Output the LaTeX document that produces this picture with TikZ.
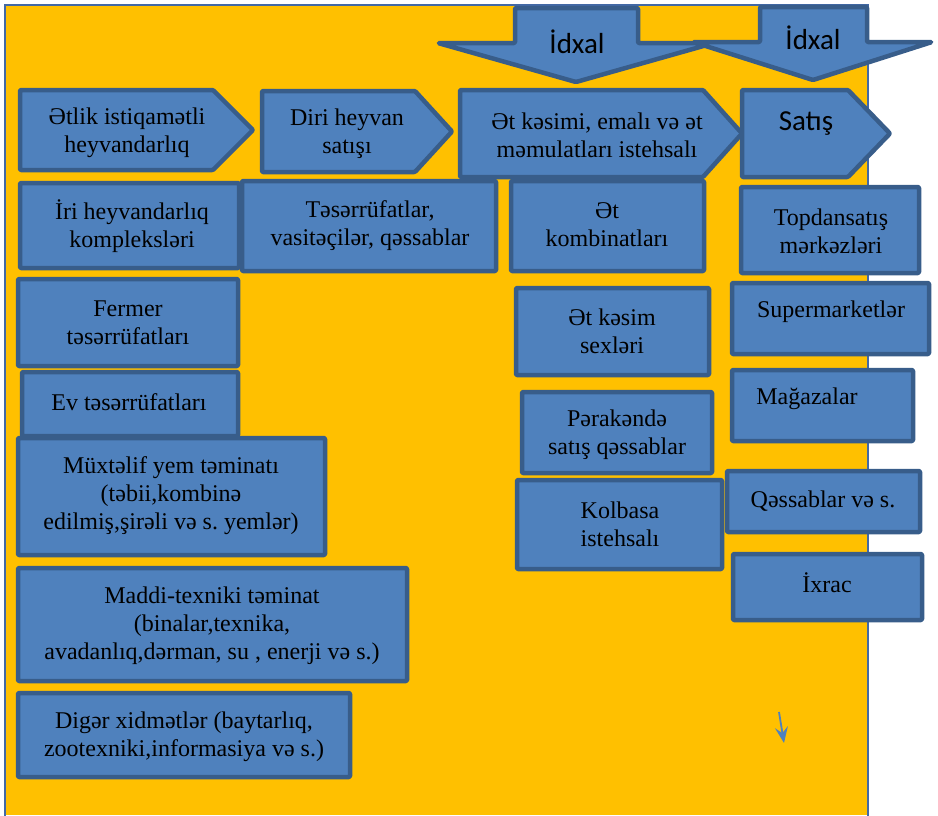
\documentclass[tikz,border=0pt]{standalone}
\usepackage{fontspec}
\setmainfont{Liberation Serif}
\newfontfamily\calfont{Carlito}
\usetikzlibrary{arrows.meta}
\definecolor{orng}{HTML}{FFC000}
\definecolor{bfill}{HTML}{4F81BD}
\definecolor{bline}{HTML}{385D8A}
\definecolor{framec}{HTML}{4369A5}
\frenchspacing
\begin{document}
\frenchspacing
\begin{tikzpicture}[x=1pt,y=-1pt,
  shp/.style={fill=bfill,draw=bline,line width=4.5pt,line join=round,rounded corners=1pt},
  txt/.style={font=\frenchspacing\fontsize{24}{28}\selectfont, align=center, text=black, inner sep=0pt},
  sans/.style={font=\calfont\fontsize{29}{33}\selectfont, text=black, inner sep=0pt},
  link/.style={-{Stealth[length=16pt,width=13pt,inset=6pt]}, draw=bfill, line width=1.8pt}]
\useasboundingbox (0,0) rectangle (938,815);
% background
\fill[orng] (5,5) rectangle (868,815);
\draw[framec, line width=2pt] (5,818) -- (5,5) -- (868,5) -- (868,818);
% chain of pentagons
\draw[shp] (20,90) -- (213,90) -- (253,130) -- (213,170) -- (20,170) -- cycle;
\node[txt] (etlik) at (127,133) {Ətlik istiqamətli\\heyvandarlıq};
\draw[shp] (262,91) -- (415,91) -- (452,131.5) -- (415,172) -- (262,172) -- cycle;
\node[txt] (diri) at (347,134) {Diri heyvan\\satışı};
\draw[shp] (460,90) -- (703,90) -- (742,133.5) -- (703,177) -- (460,177) -- cycle;
\node[txt] (etkesimi) at (597,135) {Ət kəsimi, emalı və ət\\məmulatları istehsalı};
\draw[shp] (742,90) -- (848,90) -- (890,133.5) -- (848,177) -- (742,177) -- cycle;
\node[sans] (satis) at (806,124) {Satış};
% import arrows
\draw[shp] (515,8) -- (638,8) -- (638,43) -- (714,43) -- (576,82) -- (438,43) -- (515,43) -- cycle;
\node[sans] (idxal1) at (577,42) {İdxal};
\draw[shp] (760,7) -- (867,7) -- (867,42) -- (932,42) -- (813,80) -- (693,42) -- (760,42) -- cycle;
\node[sans] (idxal2) at (813,38) {İdxal};
% left column
\draw[shp] (20,183) rectangle (239,268);
\node[txt] (iri) at (132,226) {İri heyvandarlıq\\kompleksləri};
\draw[shp] (242,181) rectangle (496,271);
\node[txt] (teserr) at (370,226) {Təsərrüfatlar,\\vasitəçilər, qəssablar};
\draw[shp] (18,279) rectangle (238,366);
\node[txt] (fermer) at (128,323) {Fermer\\təsərrüfatları};
\draw[shp] (22,372) rectangle (238,436);
\node[txt] (ev) at (129,402) {Ev təsərrüfatları};
\draw[shp] (18,438) rectangle (325,555);
\node[txt] (yem) at (171,496) {Müxtəlif yem təminatı\\(təbii,kombinə\\edilmiş,şirəli və s. yemlər)};
\draw[shp] (18,568) rectangle (407,681);
\node[txt] (maddi) at (212,626) {Maddi-texniki təminat\\(binalar,texnika,\\avadanlıq,dərman, su , enerji və s.)};
\draw[shp] (18,693) rectangle (350,777);
\node[txt] (diger) at (184,737) {Digər xidmətlər (baytarlıq,\\zootexniki,informasiya və s.)};
% processing column
\draw[shp] (511,181) rectangle (704,271);
\node[txt] (kombinat) at (607,225) {Ət\\kombinatları};
\draw[shp] (516,288) rectangle (709,375);
\node[txt] (sex) at (612,331) {Ət kəsim\\sexləri};
\draw[shp] (522,392) rectangle (712,473);
\node[txt] (perak) at (617,435) {Pərakəndə\\satış qəssablar};
\draw[shp] (517,480) rectangle (722,569);
\node[txt] (kolbasa) at (620,524) {Kolbasa\\istehsalı};
% sales column
\draw[shp] (741,187) rectangle (919,273);
\node[txt] (topdan) at (831,231) {Topdansatış\\mərkəzləri};
\draw[shp] (732,283) rectangle (929,354);
\node[txt] (super) at (831,312) {Supermarketlər};
\draw[shp] (732,370) rectangle (913,441);
\node[txt] (magaza) at (807,399) {Mağazalar};
\draw[shp] (727,471) rectangle (920,532);
\node[txt] (qessab) at (823,501) {Qəssablar və s.};
\draw[shp] (733,554) rectangle (922,620);
\node[txt] (ixrac) at (827,583) {İxrac};
% small arrow
\coordinate (a1) at (779,712);
\coordinate (a2) at (784,743);
\draw[link] (a1) -- (a2);
\end{tikzpicture}
\end{document}
